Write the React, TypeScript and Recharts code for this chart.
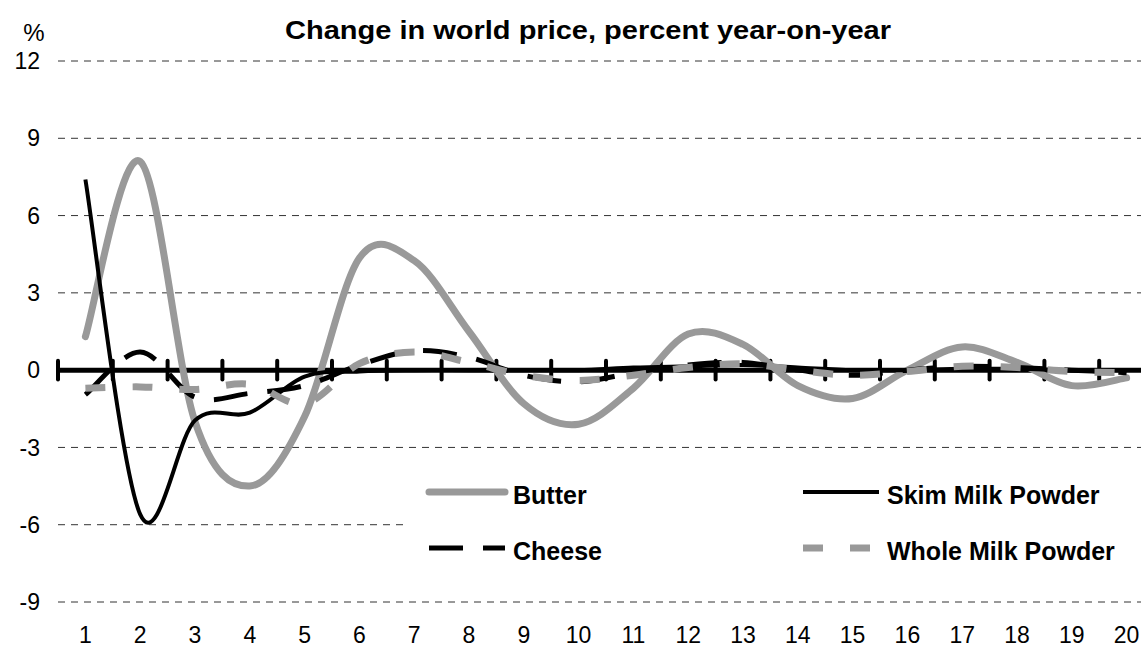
import React from 'react';
import { LineChart, Line, XAxis, YAxis, CartesianGrid, ReferenceLine, Legend } from 'recharts';

const categories = [1, 2, 3, 4, 5, 6, 7, 8, 9, 10, 11, 12, 13, 14, 15, 16, 17, 18, 19, 20];
const butter = [1.3, 8.1, -2.0, -4.5, -1.8, 4.35, 4.25, 1.5, -1.3, -2.1, -0.7, 1.4, 1.0, -0.6, -1.1, 0.0, 0.9, 0.3, -0.6, -0.3];
const skimMilkPowder = [7.4, -5.6, -1.95, -1.65, -0.25, -0.05, 0.0, 0.0, 0.0, 0.0, 0.1, 0.15, 0.2, 0.1, 0.0, 0.0, 0.05, 0.05, 0.0, 0.0];
const cheese = [-0.95, 0.7, -1.05, -0.9, -0.6, 0.2, 0.75, 0.5, -0.2, -0.45, -0.1, 0.2, 0.3, 0.0, -0.2, 0.0, 0.15, 0.1, 0.0, -0.1];
const wholeMilkPowder = [-0.7, -0.65, -0.75, -0.55, -1.3, 0.25, 0.7, 0.3, -0.2, -0.4, -0.2, 0.1, 0.25, 0.0, -0.2, -0.05, 0.15, 0.1, -0.05, -0.1];
const yTicks = [-9, -6, -3, 0, 3, 6, 9, 12];

const data = categories.map((x, i) => ({
    x,
    butter: butter[i],
    smp: skimMilkPowder[i],
    cheese: cheese[i],
    wmp: wholeMilkPowder[i],
}));

// tick marks on the zero line sit between categories
const boundaries = [...categories.map((c) => c - 0.5), categories[categories.length - 1] + 0.5];

const series = [
    { key: 'butter', name: 'Butter', color: '#999999', width: 7, dash: undefined, cap: 'round' },
    { key: 'smp', name: 'Skim Milk Powder', color: '#000000', width: 4, dash: undefined, cap: 'butt' },
    { key: 'cheese', name: 'Cheese', color: '#000000', width: 5, dash: '34 20', cap: 'butt' },
    { key: 'wmp', name: 'Whole Milk Powder', color: '#999999', width: 7, dash: '20 27', cap: 'butt' },
];

const font = "'Liberation Sans', Arial, sans-serif";

// Excel style smoothed line (bezier with tangents (p[i+1]-p[i-1])/6)
const excelSmooth = (context: any) => {
    let pts: number[][] = [];
    return {
        areaStart() {},
        areaEnd() {},
        lineStart() {
            pts = [];
        },
        point(x: number, y: number) {
            pts.push([+x, +y]);
        },
        lineEnd() {
            if (!pts.length) return;
            context.moveTo(pts[0][0], pts[0][1]);
            for (let i = 0; i < pts.length - 1; i++) {
                const p0 = pts[Math.max(i - 1, 0)];
                const p1 = pts[i];
                const p2 = pts[i + 1];
                const p3 = pts[Math.min(i + 2, pts.length - 1)];
                context.bezierCurveTo(
                    p1[0] + (p2[0] - p0[0]) / 6,
                    p1[1] + (p2[1] - p0[1]) / 6,
                    p2[0] - (p3[0] - p1[0]) / 6,
                    p2[1] - (p3[1] - p1[1]) / 6,
                    p2[0],
                    p2[1]
                );
            }
        },
    };
};

const renderLegend = () => (
    <svg width={760} height={125}>
        {series.map((s, i) => {
            const x0 = i % 2 === 0 ? 24 : 398;
            const y0 = 30 + Math.floor(i / 2) * 56;
            return (
                <g key={s.key}>
                    <line
                        x1={x0}
                        x2={x0 + 76}
                        y1={y0}
                        y2={y0}
                        stroke={s.color}
                        strokeWidth={s.width}
                        strokeDasharray={s.dash}
                        strokeLinecap={s.cap as any}
                    />
                    <text
                        x={x0 + 84}
                        y={y0 + 3}
                        dominantBaseline="central"
                        fontFamily={font}
                        fontWeight="bold"
                        fontSize={25}
                        fill="#000"
                    >
                        {s.name}
                    </text>
                </g>
            );
        })}
    </svg>
);

export default function App() {
    return (
        <div
            style={{
                position: 'absolute',
                left: 0,
                top: 0,
                width: 1141,
                height: 650,
                overflow: 'hidden',
                background: '#fff',
                fontFamily: font,
            }}
        >
            <div
                style={{
                    position: 'absolute',
                    left: 588,
                    top: 18,
                    whiteSpace: 'nowrap',
                    fontSize: 25,
                    lineHeight: '25px',
                    fontWeight: 'bold',
                    transform: 'translateX(-50%) scaleX(1.16)',
                    zIndex: 2,
                }}
            >
                Change in world price, percent year-on-year
            </div>
            <div
                style={{
                    position: 'absolute',
                    left: 14,
                    width: 40,
                    top: 21,
                    textAlign: 'center',
                    fontSize: 24,
                    lineHeight: '24px',
                    zIndex: 2,
                }}
            >
                %
            </div>
            <LineChart width={1160} height={650} data={data} margin={{ top: 61, right: 6, bottom: 0, left: 0 }}>
                <CartesianGrid vertical={false} stroke="#333" strokeDasharray="7 6" />
                <XAxis
                    type="number"
                    dataKey="x"
                    domain={[0.5, 20.5]}
                    ticks={categories}
                    interval={0}
                    height={48}
                    axisLine={false}
                    tickLine={false}
                    tickSize={0}
                    tickMargin={25}
                    tick={{ fontSize: 23, fill: '#000', fontFamily: font }}
                />
                <YAxis
                    type="number"
                    domain={[-9, 12]}
                    ticks={yTicks}
                    interval={0}
                    width={58}
                    axisLine={false}
                    tickLine={false}
                    tickSize={0}
                    tickMargin={18}
                    tick={{ fontSize: 23, fill: '#000', fontFamily: font }}
                />
                <ReferenceLine y={0} stroke="#000" strokeWidth={5} />
                {boundaries.map((b) => (
                    <ReferenceLine
                        key={b}
                        segment={[
                            { x: b, y: -0.36 },
                            { x: b, y: 0.36 },
                        ]}
                        stroke="#000"
                        strokeWidth={4}
                        strokeLinecap="round"
                    />
                ))}
                <Legend verticalAlign="middle" align="center" content={renderLegend}
                    wrapperStyle={{ position: 'absolute', left: 405, top: 462, width: 760, height: 125, background: '#fff' }}
                />
                {series.map((s) => (
                    <Line
                        key={s.key}
                        type={excelSmooth as any}
                        dataKey={s.key}
                        name={s.name}
                        stroke={s.color}
                        strokeWidth={s.width}
                        strokeDasharray={s.dash}
                        strokeLinecap={s.cap as any}
                        dot={false}
                        activeDot={false}
                        isAnimationActive={false}
                    />
                ))}
            </LineChart>
        </div>
    );
}
